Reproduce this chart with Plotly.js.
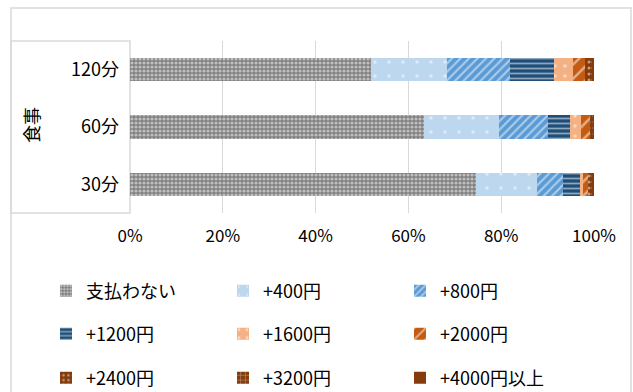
<!DOCTYPE html>
<html><head><meta charset="utf-8">
<script src="https://cdn.plot.ly/plotly-3.0.1.min.js"></script>
<style>html,body{margin:0;padding:0;background:#fff;}#chart{width:633px;height:392px;}</style>
</head><body><div id="chart"></div>
<script>
const categories = ["30分", "60分", "120分"];
const seriesNames = ["支払わない", "+400円", "+800円", "+1200円", "+1600円", "+2000円", "+2400円", "+3200円", "+4000円以上"];
const s_none  = [74.6, 63.4, 51.9];
const s_400   = [13.2, 16.2, 16.4];
const s_800   = [5.5, 10.4, 13.5];
const s_1200  = [3.7, 4.8, 9.6];
const s_1600  = [0.7, 2.5, 4.1];
const s_2000  = [0.9, 1.8, 2.6];
const s_2400  = [0.6, 0.4, 1.1];
const s_3200  = [0.4, 0.3, 0.4];
const s_4000  = [0.4, 0.2, 0.4];
const xTickVals = [0, 20, 40, 60, 80, 100];
const xTickText = ["0%", "20%", "40%", "60%", "80%", "100%"];
const yTitle = "食事";

const seriesValues = [s_none, s_400, s_800, s_1200, s_1600, s_2000, s_2400, s_3200, s_4000];
const styles = [
  {color: "#7f7f7f", shape: ".", size: 4, solidity: 0.5},
  {color: "#bdd7ee", shape: ".", size: 14, solidity: 0.05},
  {color: "#5b9bd5", shape: "/", size: 6, solidity: 0.35},
  {color: "#1f4e79", shape: "-", size: 5, solidity: 0.35},
  {color: "#f4b183", shape: ".", size: 10, solidity: 0.1},
  {color: "#c55a11", shape: "/", size: 10, solidity: 0.25},
  {color: "#843c0c", shape: ".", size: 6, solidity: 0.2},
  {color: "#843c0c", shape: "+", size: 6, solidity: 0.2},
  {color: "#843c0c", shape: "", size: 6, solidity: 0.2}
];
const legendIds = ["legend","legend","legend","legend2","legend2","legend2","legend3","legend3","legend3"];

const traces = seriesNames.map((name, i) => ({
  type: "bar",
  orientation: "h",
  name: name,
  y: categories,
  x: seriesValues[i],
  legend: legendIds[i],
  hoverinfo: "name+x",
  marker: {
    color: styles[i].color,
    line: {width: 0},
    pattern: styles[i].shape ? {shape: styles[i].shape, fgcolor: "#ffffff", fillmode: "overlay", size: styles[i].size, solidity: styles[i].solidity} : {shape: ""}
  }
}));

const W = 633, H = 392, L = 130, R = 594, T = 41, B = 213;
const px = v => (v - L) / (R - L);
const py = v => (B - v) / (B - T);
const font = "Noto Sans CJK JP, Noto Sans, sans-serif";
const legendBase = {orientation: "h", entrywidth: 132, entrywidthmode: "pixels", font: {size: 18, color: "#000", family: font}, bgcolor: "rgba(0,0,0,0)", x: px(46), xanchor: "left", yanchor: "middle", traceorder: "normal"};

const layout = {
  width: W, height: H,
  margin: {l: L, r: W - R, t: T, b: H - B, pad: 0, autoexpand: false},
  paper_bgcolor: "#fff", plot_bgcolor: "#fff",
  barmode: "stack", bargap: 0.59,
  font: {family: font, color: "#000"},
  showlegend: true,
  xaxis: {range: [0, 100], tickvals: xTickVals, ticktext: xTickText, showgrid: true, gridcolor: "#d9d9d9", gridwidth: 1, zeroline: false, showline: false, ticks: "", ticklabelstandoff: 11, tickfont: {size: 17, family: font, color: "#000"}, fixedrange: true, automargin: false},
  yaxis: {type: "category", categoryorder: "array", categoryarray: categories, range: [-0.5, 2.5], showgrid: false, zeroline: false, showline: false, ticks: "", ticklabelstandoff: 10, tickfont: {size: 18, family: font, color: "#000"}, fixedrange: true, automargin: false},
  legend: Object.assign({}, legendBase, {y: py(291)}),
  legend2: Object.assign({}, legendBase, {y: py(334)}),
  legend3: Object.assign({}, legendBase, {y: py(378)}),
  shapes: [
    {type: "rect", xref: "paper", yref: "paper", x0: px(11), x1: px(631), y0: py(400), y1: py(8), line: {color: "#d9d9d9", width: 1.5}, layer: "below"},
    {type: "rect", xref: "paper", yref: "paper", x0: px(11), x1: 0, y0: 0, y1: 1, line: {color: "#d9d9d9", width: 1.5}, layer: "below"}
  ],
  annotations: [
    {text: yTitle, xref: "paper", yref: "paper", x: px(31), y: py(125), textangle: -90, showarrow: false, font: {size: 18, family: font, color: "#000"}, xanchor: "center", yanchor: "middle"}
  ]
};

Plotly.newPlot("chart", traces, layout, {displayModeBar: false, staticPlot: true});
</script></body></html>
